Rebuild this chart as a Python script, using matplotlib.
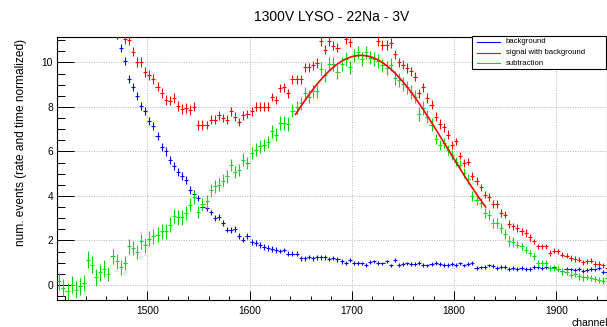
import numpy as np
import matplotlib
matplotlib.use("Agg")
import matplotlib.pyplot as plt
from matplotlib.lines import Line2D
from matplotlib.patches import Rectangle
from matplotlib.ticker import MultipleLocator

plt.rcParams['font.family'] = ['Liberation Sans', 'DejaVu Sans']

# ---------------- data ----------------
title = "1300V LYSO - 22Na - 3V"
x_label = "channel"
y_label = "num. events (rate and time normalized)"
legend_labels = ["background", "signal with background", "subtraction"]

BIN_WIDTH = 4

bg_start = 1470
bg_values = [
    11.25, 10.64, 10.07, 9.27, 8.88, 8.50, 8.05, 7.83, 7.38, 7.16,
    6.68, 6.20, 6.00, 5.60, 5.36, 5.07, 4.88, 4.70, 4.25, 4.10,
    3.90, 3.49, 3.46, 3.26, 3.00, 3.04, 2.77, 2.49, 2.46, 2.53,
    2.19, 2.04, 2.19, 1.93, 1.87, 1.78, 1.72, 1.65, 1.62, 1.57,
    1.54, 1.57, 1.41, 1.41, 1.41, 1.20, 1.20, 1.27, 1.20, 1.24,
    1.24, 1.24, 1.17, 1.21, 1.15, 1.06, 1.00, 1.12, 1.00, 1.00,
    0.97, 0.91, 1.03, 1.06, 1.00, 0.97, 1.06, 0.88, 1.12, 0.91,
    0.94, 0.97, 0.94, 0.94, 1.00, 0.91, 0.88, 0.94, 1.00, 0.94,
    0.91, 0.91, 0.94, 0.91, 0.97, 0.88, 0.94, 0.99, 0.76, 0.79,
    0.82, 0.88, 0.85, 0.76, 0.82, 0.82, 0.73, 0.76, 0.73, 0.76,
    0.73, 0.73, 0.82, 0.79, 0.76, 0.79, 0.76, 0.79, 0.70, 0.64,
    0.73, 0.70, 0.67, 0.73, 0.64, 0.67, 0.73, 0.70, 0.76, 0.58,
    0.58,
]
bg_errors = [0.18] * 20 + [0.13] * 20 + [0.10] * 20 + [0.08] * 61

sig_start = 1478
sig_values = [
    11.05, 11.00, 10.49, 10.04, 10.04, 9.57, 9.45, 9.27, 8.92, 8.62,
    8.32, 8.29, 8.40, 8.05, 7.92, 7.95, 7.87, 8.02, 7.20, 7.20,
    7.20, 7.43, 7.43, 7.62, 7.50, 7.43, 7.80, 7.57, 7.32, 7.62,
    7.68, 7.80, 8.02, 8.02, 8.02, 8.02, 8.46, 8.32, 8.85, 8.88,
    8.62, 9.25, 9.25, 9.25, 9.78, 9.78, 9.87, 9.97, 10.97, 10.57,
    10.97, 10.75, 10.67, 11.50, 11.05, 10.90, 11.70, 11.80, 11.70, 11.80,
    11.60, 11.50, 10.97, 10.79, 10.79, 10.87, 10.37, 10.01, 9.90, 9.75,
    9.60, 9.37, 8.62, 8.88, 8.40, 8.10, 7.57, 7.23, 7.08, 6.75,
    6.30, 6.45, 5.82, 5.48, 5.55, 4.90, 4.68, 4.39, 4.06, 3.95,
    3.65, 3.65, 3.23, 3.16, 2.74, 2.63, 2.56, 2.41, 2.34, 2.14,
    1.96, 1.74, 1.74, 1.74, 1.44, 1.54, 1.51, 1.36, 1.32, 1.21,
    1.17, 1.14, 1.02, 1.06, 1.09, 0.94, 0.94, 0.88, 0.76,
]
sig_errors = [0.22] * 20 + [0.19] * 20 + [0.21] * 40 + [0.17] * 20 + [0.12] * 19

sub_start = 1414
sub_values = [
    0.16, -0.13, -0.28, 0.01, -0.21, -0.06, 0.09, 1.14, 0.91, 0.34,
    0.58, 0.73, 0.49, 1.29, 1.06, 0.79, 0.99, 1.74, 1.66, 1.48,
    1.96, 1.78, 2.08, 2.19, 2.26, 2.41, 2.41, 2.71, 3.08, 3.04,
    3.04, 3.23, 3.61, 3.94, 3.28, 3.64, 3.76, 4.25, 4.43, 4.51,
    4.69, 4.88, 5.40, 5.07, 5.18, 5.63, 5.48, 5.93, 6.08, 6.23,
    6.30, 6.42, 6.90, 6.75, 7.28, 7.28, 7.23, 7.83, 7.98, 8.17,
    8.62, 8.47, 8.70, 8.70, 9.72, 9.42, 9.93, 9.93, 9.57, 9.93,
    10.16, 9.78, 10.31, 10.46, 10.16, 10.46, 10.22, 10.16, 10.07, 9.87,
    9.75, 9.90, 9.30, 9.22, 9.03, 8.88, 8.67, 8.47, 7.68, 7.95,
    7.57, 7.20, 6.57, 6.30, 6.38, 6.08, 5.85, 5.55, 5.40, 5.03,
    4.75, 4.00, 3.83, 3.68, 3.23, 3.16, 2.78, 2.78, 2.56, 2.29,
    1.96, 1.93, 1.81, 1.74, 1.59, 1.44, 1.29, 0.99, 0.99, 0.99,
    0.76, 0.76, 0.72, 0.61, 0.58, 0.46, 0.49, 0.39, 0.34, 0.36,
    0.31, 0.27, 0.22, 0.19, 0.31,
]
sub_errors = [0.38] * 12 + [0.33] * 20 + [0.28] * 20 + [0.30] * 40 + [0.22] * 20 + [0.15] * 23

# Gaussian fit to the subtraction
fit_amplitude = 10.32
fit_mean = 1709.0
fit_sigma = 83.0
fit_range = (1645.0, 1831.0)

x_ticks = [1500, 1600, 1700, 1800, 1900]
y_ticks = [0, 2, 4, 6, 8, 10]

# ---------------- layout ----------------
W, H = 607, 327
fig = plt.figure(figsize=(W / 100, H / 100), dpi=100)
fx = lambda px: px / W
fy = lambda py: 1 - py / H

left_px, right_px, top_px, bottom_px = 57.3, 607.0, 36.8, 299.5
ax = fig.add_axes([fx(left_px), fy(bottom_px), (right_px - left_px) / W, (bottom_px - top_px) / H])
ax.set_xlim(1412, 1949.6)
ax.set_ylim(-0.652, 11.155)

BLUE, RED, GREEN = '#0000ff', '#ff0000', '#00dd00'

def draw_hist(start, values, errors, color):
    x = start + BIN_WIDTH * np.arange(len(values))
    ax.errorbar(x, values, xerr=BIN_WIDTH / 2, yerr=errors, fmt='none',
                ecolor=color, elinewidth=0.8, capsize=0, zorder=3)

draw_hist(bg_start, bg_values, bg_errors, BLUE)
draw_hist(sig_start, sig_values, sig_errors, RED)
draw_hist(sub_start, sub_values, sub_errors, GREEN)

xf = np.linspace(fit_range[0], fit_range[1], 200)
yf = fit_amplitude * np.exp(-0.5 * ((xf - fit_mean) / fit_sigma) ** 2)
ax.plot(xf, yf, color=RED, lw=1.2, zorder=4)

# axes styling (ROOT look)
ax.set_xticks(x_ticks)
ax.set_yticks(y_ticks)
ax.xaxis.set_minor_locator(MultipleLocator(20))
ax.yaxis.set_minor_locator(MultipleLocator(0.5))
ax.tick_params(axis='x', which='major', direction='in', length=6.5, width=0.7, labelsize=7.4, pad=4.5, top=False)
ax.tick_params(axis='x', which='minor', direction='in', length=3.2, width=0.7, top=False)
ax.tick_params(axis='y', which='major', direction='in', length=11.9, width=0.7, labelsize=7.4, pad=3, right=False)
ax.tick_params(axis='y', which='minor', direction='in', length=5.8, width=0.7, right=False)
ax.grid(True, which='major', color='#b4b4b4', linestyle=(0, (1, 1.5)), linewidth=0.7, zorder=0)
ax.set_axisbelow(True)
for s in ax.spines.values():
    s.set_linewidth(0.8)
    s.set_color('black')

# texts
fig.text(fx(332), fy(17), title, ha='center', va='center', fontsize=10)
fig.text(fx(20.7), fy(39), y_label, rotation=90, ha='center', va='top', fontsize=8.6)
fig.text(fx(571), fy(323), x_label, ha='left', va='center', fontsize=7.5)

# legend (ROOT TLegend style)
leg_l, leg_r, leg_t, leg_b = 471.5, 606.3, 36.0, 69.3
fig.add_artist(Rectangle((fx(leg_l), fy(leg_b)), (leg_r - leg_l) / W, (leg_b - leg_t) / H,
                         transform=fig.transFigure, facecolor='white', edgecolor='black',
                         lw=0.8, zorder=10))
rows = [41.7, 52.5, 63.3]
for label, color, ry in zip(legend_labels, [BLUE, RED, GREEN], rows):
    fig.add_artist(Line2D([fx(476.7), fx(500)], [fy(ry), fy(ry)], transform=fig.transFigure,
                          color=color, lw=0.8, zorder=11))
    fig.text(fx(506), fy(ry), label, ha='left', va='center', fontsize=5.6, zorder=12)

fig.savefig('out.png', dpi=100)
